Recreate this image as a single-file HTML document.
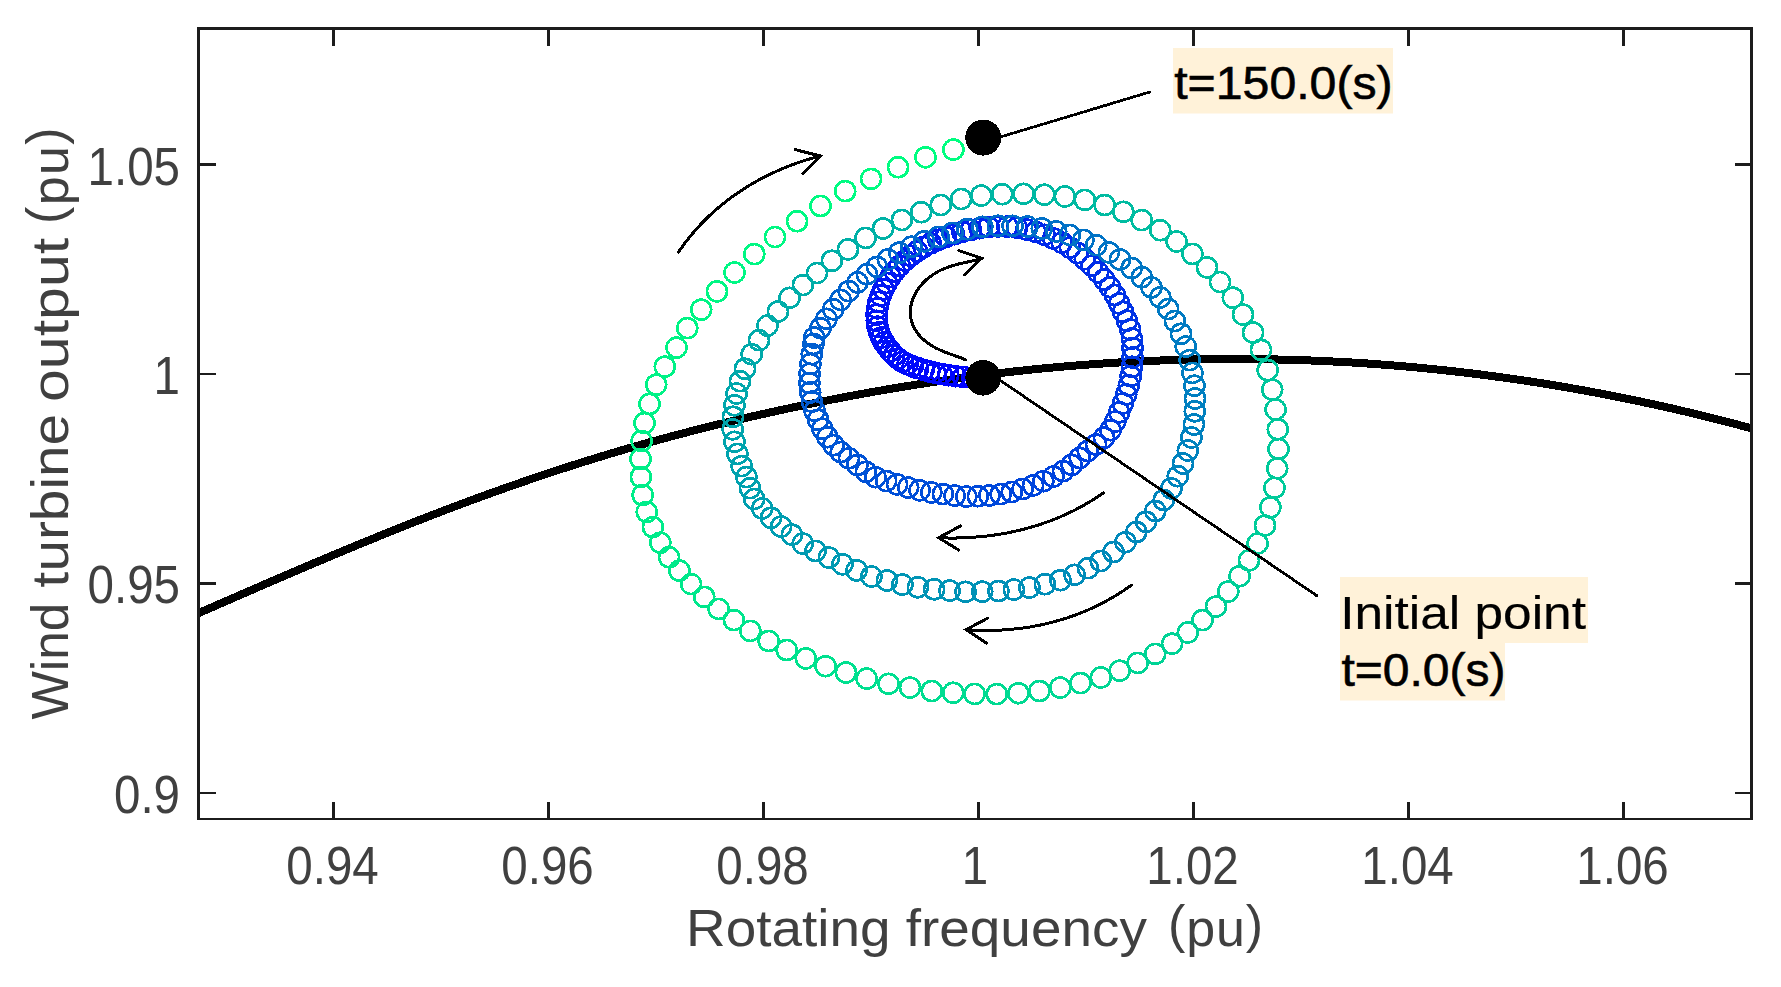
<!DOCTYPE html>
<html lang="en"><head><meta charset="utf-8"><title>Wind turbine output vs rotating frequency</title>
<style>html,body{margin:0;padding:0;background:#fff}svg{display:block}text{font-family:"Liberation Sans",sans-serif}</style></head>
<body>
<svg width="1781" height="987" viewBox="0 0 1781 987">
<rect width="1781" height="987" fill="#fff"/>
<defs><clipPath id="ax"><rect x="197" y="27" width="1556" height="793"/></clipPath></defs>
<g clip-path="url(#ax)">
<path d="M190.0 616.87 L195.0 614.69 L200.0 612.50 L205.0 610.32 L210.0 608.13 L215.0 605.95 L220.0 603.77 L225.0 601.59 L230.0 599.41 L235.0 597.23 L240.0 595.05 L245.0 592.88 L250.0 590.71 L255.0 588.54 L260.0 586.37 L265.0 584.21 L270.0 582.05 L275.0 579.89 L280.0 577.74 L285.0 575.59 L290.0 573.45 L295.0 571.30 L300.0 569.17 L305.0 567.04 L310.0 564.91 L315.0 562.79 L320.0 560.67 L325.0 558.56 L330.0 556.46 L335.0 554.36 L340.0 552.27 L345.0 550.18 L350.0 548.10 L355.0 546.03 L360.0 543.97 L365.0 541.91 L370.0 539.86 L375.0 537.82 L380.0 535.78 L385.0 533.76 L390.0 531.74 L395.0 529.73 L400.0 527.73 L405.0 525.74 L410.0 523.76 L415.0 521.79 L420.0 519.82 L425.0 517.87 L430.0 515.93 L435.0 514.00 L440.0 512.08 L445.0 510.17 L450.0 508.27 L455.0 506.38 L460.0 504.50 L465.0 502.64 L470.0 500.78 L475.0 498.94 L480.0 497.11 L485.0 495.29 L490.0 493.48 L495.0 491.68 L500.0 489.90 L505.0 488.13 L510.0 486.36 L515.0 484.62 L520.0 482.88 L525.0 481.15 L530.0 479.44 L535.0 477.74 L540.0 476.05 L545.0 474.38 L550.0 472.71 L555.0 471.06 L560.0 469.42 L565.0 467.80 L570.0 466.19 L575.0 464.59 L580.0 463.00 L585.0 461.43 L590.0 459.87 L595.0 458.32 L600.0 456.79 L605.0 455.27 L610.0 453.76 L615.0 452.27 L620.0 450.79 L625.0 449.33 L630.0 447.87 L635.0 446.44 L640.0 445.01 L645.0 443.60 L650.0 442.20 L655.0 440.82 L660.0 439.45 L665.0 438.09 L670.0 436.75 L675.0 435.42 L680.0 434.10 L685.0 432.79 L690.0 431.50 L695.0 430.22 L700.0 428.95 L705.0 427.69 L710.0 426.45 L715.0 425.22 L720.0 424.00 L725.0 422.79 L730.0 421.59 L735.0 420.40 L740.0 419.23 L745.0 418.07 L750.0 416.91 L755.0 415.77 L760.0 414.64 L765.0 413.52 L770.0 412.41 L775.0 411.31 L780.0 410.22 L785.0 409.14 L790.0 408.08 L795.0 407.02 L800.0 405.97 L805.0 404.93 L810.0 403.91 L815.0 402.89 L820.0 401.89 L825.0 400.89 L830.0 399.91 L835.0 398.93 L840.0 397.97 L845.0 397.02 L850.0 396.08 L855.0 395.15 L860.0 394.23 L865.0 393.32 L870.0 392.42 L875.0 391.53 L880.0 390.66 L885.0 389.79 L890.0 388.94 L895.0 388.10 L900.0 387.27 L905.0 386.45 L910.0 385.64 L915.0 384.84 L920.0 384.05 L925.0 383.28 L930.0 382.52 L935.0 381.76 L940.0 381.03 L945.0 380.30 L950.0 379.58 L955.0 378.88 L960.0 378.18 L965.0 377.50 L970.0 376.83 L975.0 376.17 L980.0 375.53 L985.0 374.89 L990.0 374.27 L995.0 373.66 L1000.0 373.07 L1005.0 372.48 L1010.0 371.91 L1015.0 371.35 L1020.0 370.80 L1025.0 370.26 L1030.0 369.74 L1035.0 369.22 L1040.0 368.72 L1045.0 368.24 L1050.0 367.76 L1055.0 367.30 L1060.0 366.85 L1065.0 366.41 L1070.0 365.99 L1075.0 365.58 L1080.0 365.18 L1085.0 364.79 L1090.0 364.42 L1095.0 364.06 L1100.0 363.71 L1105.0 363.37 L1110.0 363.05 L1115.0 362.73 L1120.0 362.43 L1125.0 362.15 L1130.0 361.87 L1135.0 361.61 L1140.0 361.37 L1145.0 361.13 L1150.0 360.91 L1155.0 360.70 L1160.0 360.50 L1165.0 360.31 L1170.0 360.14 L1175.0 359.98 L1180.0 359.83 L1185.0 359.70 L1190.0 359.57 L1195.0 359.47 L1200.0 359.37 L1205.0 359.29 L1210.0 359.21 L1215.0 359.16 L1220.0 359.11 L1225.0 359.08 L1230.0 359.06 L1235.0 359.05 L1240.0 359.05 L1245.0 359.07 L1250.0 359.10 L1255.0 359.15 L1260.0 359.20 L1265.0 359.27 L1270.0 359.35 L1275.0 359.45 L1280.0 359.56 L1285.0 359.68 L1290.0 359.81 L1295.0 359.96 L1300.0 360.11 L1305.0 360.29 L1310.0 360.47 L1315.0 360.67 L1320.0 360.88 L1325.0 361.10 L1330.0 361.34 L1335.0 361.59 L1340.0 361.85 L1345.0 362.12 L1350.0 362.41 L1355.0 362.71 L1360.0 363.03 L1365.0 363.35 L1370.0 363.69 L1375.0 364.05 L1380.0 364.41 L1385.0 364.79 L1390.0 365.18 L1395.0 365.59 L1400.0 366.00 L1405.0 366.43 L1410.0 366.88 L1415.0 367.33 L1420.0 367.80 L1425.0 368.29 L1430.0 368.78 L1435.0 369.29 L1440.0 369.81 L1445.0 370.35 L1450.0 370.89 L1455.0 371.45 L1460.0 372.03 L1465.0 372.62 L1470.0 373.22 L1475.0 373.83 L1480.0 374.46 L1485.0 375.09 L1490.0 375.75 L1495.0 376.41 L1500.0 377.09 L1505.0 377.78 L1510.0 378.49 L1515.0 379.21 L1520.0 379.94 L1525.0 380.68 L1530.0 381.44 L1535.0 382.21 L1540.0 383.00 L1545.0 383.79 L1550.0 384.60 L1555.0 385.43 L1560.0 386.27 L1565.0 387.12 L1570.0 387.98 L1575.0 388.86 L1580.0 389.75 L1585.0 390.65 L1590.0 391.57 L1595.0 392.50 L1600.0 393.44 L1605.0 394.40 L1610.0 395.37 L1615.0 396.35 L1620.0 397.35 L1625.0 398.36 L1630.0 399.38 L1635.0 400.41 L1640.0 401.46 L1645.0 402.53 L1650.0 403.60 L1655.0 404.69 L1660.0 405.80 L1665.0 406.91 L1670.0 408.04 L1675.0 409.19 L1680.0 410.34 L1685.0 411.51 L1690.0 412.70 L1695.0 413.90 L1700.0 415.11 L1705.0 416.33 L1710.0 417.57 L1715.0 418.82 L1720.0 420.08 L1725.0 421.36 L1730.0 422.65 L1735.0 423.96 L1740.0 425.27 L1745.0 426.61 L1750.0 427.95 L1755.0 429.31 L1760.0 430.68" fill="none" stroke="#000" stroke-width="8" shape-rendering="crispEdges"/>
<g fill="none" stroke-width="2.7" shape-rendering="crispEdges">
<circle cx="982.8" cy="377.8" r="10" stroke="#0000ff"/>
<circle cx="972.3" cy="377.5" r="10" stroke="#0001ff"/>
<circle cx="963.2" cy="376.9" r="10" stroke="#0002fe"/>
<circle cx="955.3" cy="376.2" r="10" stroke="#0003fe"/>
<circle cx="948.2" cy="375.2" r="10" stroke="#0003fd"/>
<circle cx="941.6" cy="374.1" r="10" stroke="#0004fd"/>
<circle cx="935.3" cy="372.8" r="10" stroke="#0005fc"/>
<circle cx="929.3" cy="371.4" r="10" stroke="#0006fc"/>
<circle cx="923.6" cy="369.9" r="10" stroke="#0007fc"/>
<circle cx="918.1" cy="368.2" r="10" stroke="#0008fb"/>
<circle cx="912.7" cy="366.4" r="10" stroke="#0008fb"/>
<circle cx="907.6" cy="364.3" r="10" stroke="#0009fa"/>
<circle cx="902.7" cy="361.8" r="10" stroke="#000afa"/>
<circle cx="898.3" cy="358.7" r="10" stroke="#000bfa"/>
<circle cx="894.2" cy="355.2" r="10" stroke="#000cf9"/>
<circle cx="890.5" cy="351.2" r="10" stroke="#000df9"/>
<circle cx="887.0" cy="347.0" r="10" stroke="#000df8"/>
<circle cx="884.0" cy="342.4" r="10" stroke="#000ef8"/>
<circle cx="881.3" cy="337.5" r="10" stroke="#000ff7"/>
<circle cx="879.2" cy="332.3" r="10" stroke="#0010f7"/>
<circle cx="877.6" cy="326.7" r="10" stroke="#0011f7"/>
<circle cx="876.8" cy="320.8" r="10" stroke="#0012f6"/>
<circle cx="876.6" cy="314.6" r="10" stroke="#0012f6"/>
<circle cx="877.3" cy="308.3" r="10" stroke="#0013f5"/>
<circle cx="878.6" cy="301.9" r="10" stroke="#0014f5"/>
<circle cx="880.7" cy="295.5" r="10" stroke="#0015f5"/>
<circle cx="883.4" cy="289.2" r="10" stroke="#0016f4"/>
<circle cx="886.7" cy="283.0" r="10" stroke="#0017f4"/>
<circle cx="890.5" cy="277.0" r="10" stroke="#0017f3"/>
<circle cx="894.8" cy="271.3" r="10" stroke="#0018f3"/>
<circle cx="899.7" cy="265.7" r="10" stroke="#0019f2"/>
<circle cx="905.0" cy="260.5" r="10" stroke="#001af2"/>
<circle cx="910.7" cy="255.7" r="10" stroke="#001bf2"/>
<circle cx="917.0" cy="251.2" r="10" stroke="#001cf1"/>
<circle cx="923.7" cy="247.0" r="10" stroke="#001df1"/>
<circle cx="930.8" cy="243.3" r="10" stroke="#001df0"/>
<circle cx="938.3" cy="239.9" r="10" stroke="#001ef0"/>
<circle cx="946.0" cy="236.8" r="10" stroke="#001fef"/>
<circle cx="954.1" cy="234.2" r="10" stroke="#0020ef"/>
<circle cx="962.3" cy="231.8" r="10" stroke="#0021ef"/>
<circle cx="970.9" cy="229.8" r="10" stroke="#0022ee"/>
<circle cx="979.7" cy="228.2" r="10" stroke="#0022ee"/>
<circle cx="988.7" cy="227.0" r="10" stroke="#0023ed"/>
<circle cx="998.0" cy="226.4" r="10" stroke="#0024ed"/>
<circle cx="1007.4" cy="226.6" r="10" stroke="#0025ed"/>
<circle cx="1016.9" cy="227.6" r="10" stroke="#0026ec"/>
<circle cx="1026.2" cy="229.4" r="10" stroke="#0027ec"/>
<circle cx="1035.4" cy="231.8" r="10" stroke="#0027eb"/>
<circle cx="1044.4" cy="234.8" r="10" stroke="#0028eb"/>
<circle cx="1053.2" cy="238.4" r="10" stroke="#0029ea"/>
<circle cx="1061.8" cy="242.6" r="10" stroke="#002aea"/>
<circle cx="1069.9" cy="247.6" r="10" stroke="#002bea"/>
<circle cx="1077.6" cy="253.1" r="10" stroke="#002ce9"/>
<circle cx="1084.8" cy="259.2" r="10" stroke="#002ce9"/>
<circle cx="1091.7" cy="265.6" r="10" stroke="#002de8"/>
<circle cx="1098.2" cy="272.3" r="10" stroke="#002ee8"/>
<circle cx="1104.3" cy="279.5" r="10" stroke="#002fe8"/>
<circle cx="1109.9" cy="287.1" r="10" stroke="#0030e7"/>
<circle cx="1114.9" cy="295.0" r="10" stroke="#0031e7"/>
<circle cx="1119.2" cy="303.4" r="10" stroke="#0031e6"/>
<circle cx="1123.1" cy="311.9" r="10" stroke="#0032e6"/>
<circle cx="1126.9" cy="320.6" r="10" stroke="#0033e5"/>
<circle cx="1130.1" cy="329.4" r="10" stroke="#0034e5"/>
<circle cx="1131.9" cy="338.6" r="10" stroke="#0035e5"/>
<circle cx="1132.5" cy="348.0" r="10" stroke="#0036e4"/>
<circle cx="1132.5" cy="357.5" r="10" stroke="#0037e4"/>
<circle cx="1131.9" cy="366.8" r="10" stroke="#0037e3"/>
<circle cx="1130.7" cy="376.2" r="10" stroke="#0038e3"/>
<circle cx="1128.8" cy="385.4" r="10" stroke="#0039e2"/>
<circle cx="1126.2" cy="394.4" r="10" stroke="#003ae2"/>
<circle cx="1122.9" cy="403.4" r="10" stroke="#003be2"/>
<circle cx="1119.2" cy="412.3" r="10" stroke="#003ce1"/>
<circle cx="1115.3" cy="421.5" r="10" stroke="#003ce1"/>
<circle cx="1110.5" cy="430.2" r="10" stroke="#003de0"/>
<circle cx="1104.0" cy="437.8" r="10" stroke="#003ee0"/>
<circle cx="1096.1" cy="444.5" r="10" stroke="#003fe0"/>
<circle cx="1087.8" cy="451.0" r="10" stroke="#0040df"/>
<circle cx="1079.8" cy="458.0" r="10" stroke="#0041df"/>
<circle cx="1071.7" cy="464.9" r="10" stroke="#0041de"/>
<circle cx="1063.0" cy="471.2" r="10" stroke="#0042de"/>
<circle cx="1053.4" cy="476.6" r="10" stroke="#0043dd"/>
<circle cx="1043.3" cy="481.2" r="10" stroke="#0044dd"/>
<circle cx="1033.1" cy="485.4" r="10" stroke="#0045dd"/>
<circle cx="1022.6" cy="489.0" r="10" stroke="#0046dc"/>
<circle cx="1011.8" cy="492.0" r="10" stroke="#0046dc"/>
<circle cx="1000.7" cy="494.1" r="10" stroke="#0047db"/>
<circle cx="989.4" cy="495.4" r="10" stroke="#0048db"/>
<circle cx="977.9" cy="496.2" r="10" stroke="#0049db"/>
<circle cx="966.3" cy="496.6" r="10" stroke="#004ada"/>
<circle cx="954.6" cy="495.6" r="10" stroke="#004bda"/>
<circle cx="942.9" cy="494.1" r="10" stroke="#004bd9"/>
<circle cx="931.3" cy="492.4" r="10" stroke="#004cd9"/>
<circle cx="919.6" cy="490.3" r="10" stroke="#004dd8"/>
<circle cx="908.2" cy="487.6" r="10" stroke="#004ed8"/>
<circle cx="897.1" cy="484.4" r="10" stroke="#004fd8"/>
<circle cx="886.2" cy="481.0" r="10" stroke="#0050d7"/>
<circle cx="875.5" cy="477.2" r="10" stroke="#0051d7"/>
<circle cx="865.9" cy="471.8" r="10" stroke="#0051d6"/>
<circle cx="857.4" cy="465.0" r="10" stroke="#0052d6"/>
<circle cx="849.0" cy="458.3" r="10" stroke="#0053d5"/>
<circle cx="840.8" cy="452.0" r="10" stroke="#0054d5"/>
<circle cx="833.5" cy="445.1" r="10" stroke="#0055d5"/>
<circle cx="827.4" cy="437.2" r="10" stroke="#0056d4"/>
<circle cx="822.3" cy="428.7" r="10" stroke="#0056d4"/>
<circle cx="818.1" cy="419.8" r="10" stroke="#0057d3"/>
<circle cx="814.6" cy="410.8" r="10" stroke="#0058d3"/>
<circle cx="811.9" cy="401.7" r="10" stroke="#0059d3"/>
<circle cx="810.2" cy="392.5" r="10" stroke="#005ad2"/>
<circle cx="809.4" cy="383.1" r="10" stroke="#005bd2"/>
<circle cx="809.6" cy="373.7" r="10" stroke="#005bd1"/>
<circle cx="810.4" cy="364.1" r="10" stroke="#005cd1"/>
<circle cx="811.8" cy="354.2" r="10" stroke="#005dd0"/>
<circle cx="813.4" cy="344.0" r="10" stroke="#005ed0"/>
<circle cx="814.3" cy="337.6" r="10" stroke="#005fd0"/>
<circle cx="820.4" cy="328.2" r="10" stroke="#0060cf"/>
<circle cx="826.5" cy="318.8" r="10" stroke="#0060cf"/>
<circle cx="833.2" cy="309.3" r="10" stroke="#0061ce"/>
<circle cx="840.6" cy="299.9" r="10" stroke="#0062ce"/>
<circle cx="848.7" cy="291.1" r="10" stroke="#0063ce"/>
<circle cx="857.5" cy="282.4" r="10" stroke="#0064cd"/>
<circle cx="866.9" cy="274.3" r="10" stroke="#0065cd"/>
<circle cx="877.0" cy="266.9" r="10" stroke="#0065cc"/>
<circle cx="887.8" cy="259.5" r="10" stroke="#0066cc"/>
<circle cx="899.2" cy="252.7" r="10" stroke="#0067cb"/>
<circle cx="911.4" cy="246.7" r="10" stroke="#0068cb"/>
<circle cx="924.2" cy="241.3" r="10" stroke="#0069cb"/>
<circle cx="938.6" cy="236.9" r="10" stroke="#006aca"/>
<circle cx="952.5" cy="232.9" r="10" stroke="#006bca"/>
<circle cx="967.2" cy="229.2" r="10" stroke="#006bc9"/>
<circle cx="982.3" cy="226.8" r="10" stroke="#006cc9"/>
<circle cx="998.0" cy="225.8" r="10" stroke="#006dc8"/>
<circle cx="1012.6" cy="225.8" r="10" stroke="#006ec8"/>
<circle cx="1027.4" cy="226.5" r="10" stroke="#006fc8"/>
<circle cx="1041.8" cy="228.4" r="10" stroke="#0070c7"/>
<circle cx="1056.2" cy="231.4" r="10" stroke="#0070c7"/>
<circle cx="1069.9" cy="235.0" r="10" stroke="#0071c6"/>
<circle cx="1083.4" cy="239.9" r="10" stroke="#0072c6"/>
<circle cx="1096.2" cy="245.2" r="10" stroke="#0073c6"/>
<circle cx="1108.9" cy="252.4" r="10" stroke="#0074c5"/>
<circle cx="1120.0" cy="259.5" r="10" stroke="#0075c5"/>
<circle cx="1131.7" cy="268.1" r="10" stroke="#0075c4"/>
<circle cx="1141.8" cy="277.2" r="10" stroke="#0076c4"/>
<circle cx="1151.4" cy="287.4" r="10" stroke="#0077c3"/>
<circle cx="1160.3" cy="297.4" r="10" stroke="#0078c3"/>
<circle cx="1168.2" cy="309.0" r="10" stroke="#0079c3"/>
<circle cx="1174.9" cy="321.0" r="10" stroke="#007ac2"/>
<circle cx="1181.0" cy="333.8" r="10" stroke="#007ac2"/>
<circle cx="1185.7" cy="346.6" r="10" stroke="#007bc1"/>
<circle cx="1189.7" cy="360.1" r="10" stroke="#007cc1"/>
<circle cx="1192.4" cy="372.9" r="10" stroke="#007dc1"/>
<circle cx="1194.4" cy="385.7" r="10" stroke="#007ec0"/>
<circle cx="1195.0" cy="398.5" r="10" stroke="#007fc0"/>
<circle cx="1194.8" cy="411.3" r="10" stroke="#0080bf"/>
<circle cx="1193.9" cy="424.5" r="10" stroke="#0080bf"/>
<circle cx="1191.4" cy="437.5" r="10" stroke="#0081be"/>
<circle cx="1187.8" cy="450.5" r="10" stroke="#0082be"/>
<circle cx="1183.0" cy="463.5" r="10" stroke="#0083be"/>
<circle cx="1177.8" cy="476.2" r="10" stroke="#0084bd"/>
<circle cx="1171.4" cy="488.4" r="10" stroke="#0085bd"/>
<circle cx="1163.8" cy="500.0" r="10" stroke="#0085bc"/>
<circle cx="1155.3" cy="511.0" r="10" stroke="#0086bc"/>
<circle cx="1146.0" cy="521.8" r="10" stroke="#0087bb"/>
<circle cx="1136.3" cy="532.0" r="10" stroke="#0088bb"/>
<circle cx="1125.5" cy="542.2" r="10" stroke="#0089bb"/>
<circle cx="1113.5" cy="552.0" r="10" stroke="#008aba"/>
<circle cx="1100.8" cy="561.0" r="10" stroke="#008aba"/>
<circle cx="1088.0" cy="568.2" r="10" stroke="#008bb9"/>
<circle cx="1074.6" cy="574.8" r="10" stroke="#008cb9"/>
<circle cx="1060.4" cy="580.2" r="10" stroke="#008db9"/>
<circle cx="1044.9" cy="584.2" r="10" stroke="#008eb8"/>
<circle cx="1029.4" cy="587.6" r="10" stroke="#008fb8"/>
<circle cx="1013.9" cy="589.6" r="10" stroke="#008fb7"/>
<circle cx="998.4" cy="591.0" r="10" stroke="#0090b7"/>
<circle cx="982.2" cy="591.7" r="10" stroke="#0091b6"/>
<circle cx="965.6" cy="591.8" r="10" stroke="#0092b6"/>
<circle cx="949.6" cy="590.6" r="10" stroke="#0093b6"/>
<circle cx="934.1" cy="589.3" r="10" stroke="#0094b5"/>
<circle cx="917.9" cy="587.3" r="10" stroke="#0094b5"/>
<circle cx="902.4" cy="584.6" r="10" stroke="#0095b4"/>
<circle cx="886.9" cy="580.5" r="10" stroke="#0096b4"/>
<circle cx="871.4" cy="576.5" r="10" stroke="#0097b4"/>
<circle cx="856.6" cy="570.4" r="10" stroke="#0098b3"/>
<circle cx="842.4" cy="564.3" r="10" stroke="#0099b3"/>
<circle cx="828.9" cy="557.6" r="10" stroke="#009ab2"/>
<circle cx="815.5" cy="550.9" r="10" stroke="#009ab2"/>
<circle cx="802.7" cy="543.5" r="10" stroke="#009bb1"/>
<circle cx="791.9" cy="534.7" r="10" stroke="#009cb1"/>
<circle cx="781.1" cy="526.6" r="10" stroke="#009db1"/>
<circle cx="771.0" cy="517.8" r="10" stroke="#009eb0"/>
<circle cx="762.2" cy="508.4" r="10" stroke="#009fb0"/>
<circle cx="754.2" cy="499.0" r="10" stroke="#009faf"/>
<circle cx="750.0" cy="488.2" r="10" stroke="#00a0af"/>
<circle cx="746.4" cy="477.1" r="10" stroke="#00a1ae"/>
<circle cx="741.7" cy="466.1" r="10" stroke="#00a2ae"/>
<circle cx="737.4" cy="453.9" r="10" stroke="#00a3ae"/>
<circle cx="734.4" cy="441.8" r="10" stroke="#00a4ad"/>
<circle cx="732.7" cy="429.3" r="10" stroke="#00a4ad"/>
<circle cx="733.0" cy="416.8" r="10" stroke="#00a5ac"/>
<circle cx="734.4" cy="405.3" r="10" stroke="#00a6ac"/>
<circle cx="736.6" cy="393.5" r="10" stroke="#00a7ac"/>
<circle cx="740.0" cy="381.2" r="10" stroke="#00a8ab"/>
<circle cx="745.0" cy="368.8" r="10" stroke="#00a9ab"/>
<circle cx="751.7" cy="354.2" r="10" stroke="#00a9aa"/>
<circle cx="759.0" cy="340.2" r="10" stroke="#00aaaa"/>
<circle cx="767.5" cy="325.6" r="10" stroke="#00aba9"/>
<circle cx="777.9" cy="311.6" r="10" stroke="#00aca9"/>
<circle cx="789.6" cy="297.8" r="10" stroke="#00ada9"/>
<circle cx="802.9" cy="285.1" r="10" stroke="#00aea8"/>
<circle cx="817.0" cy="273.0" r="10" stroke="#00aea8"/>
<circle cx="831.9" cy="260.8" r="10" stroke="#00afa7"/>
<circle cx="848.0" cy="249.4" r="10" stroke="#00b0a7"/>
<circle cx="865.6" cy="237.9" r="10" stroke="#00b1a7"/>
<circle cx="883.1" cy="228.5" r="10" stroke="#00b2a6"/>
<circle cx="901.9" cy="220.0" r="10" stroke="#00b3a6"/>
<circle cx="921.2" cy="212.2" r="10" stroke="#00b4a5"/>
<circle cx="940.8" cy="205.0" r="10" stroke="#00b4a5"/>
<circle cx="961.1" cy="199.0" r="10" stroke="#00b5a4"/>
<circle cx="981.3" cy="195.6" r="10" stroke="#00b6a4"/>
<circle cx="1002.2" cy="194.2" r="10" stroke="#00b7a4"/>
<circle cx="1023.6" cy="193.8" r="10" stroke="#00b8a3"/>
<circle cx="1044.3" cy="194.7" r="10" stroke="#00b9a3"/>
<circle cx="1064.8" cy="196.5" r="10" stroke="#00b9a2"/>
<circle cx="1084.8" cy="199.9" r="10" stroke="#00baa2"/>
<circle cx="1104.6" cy="205.0" r="10" stroke="#00bba1"/>
<circle cx="1123.3" cy="211.8" r="10" stroke="#00bca1"/>
<circle cx="1141.7" cy="220.1" r="10" stroke="#00bda1"/>
<circle cx="1160.2" cy="230.2" r="10" stroke="#00bea0"/>
<circle cx="1176.6" cy="241.5" r="10" stroke="#00bea0"/>
<circle cx="1192.4" cy="253.9" r="10" stroke="#00bf9f"/>
<circle cx="1207.0" cy="267.4" r="10" stroke="#00c09f"/>
<circle cx="1220.0" cy="282.0" r="10" stroke="#00c19f"/>
<circle cx="1232.8" cy="297.7" r="10" stroke="#00c29e"/>
<circle cx="1243.0" cy="314.6" r="10" stroke="#00c39e"/>
<circle cx="1253.1" cy="332.6" r="10" stroke="#00c39d"/>
<circle cx="1261.0" cy="349.9" r="10" stroke="#00c49d"/>
<circle cx="1267.7" cy="370.1" r="10" stroke="#00c59c"/>
<circle cx="1272.2" cy="389.7" r="10" stroke="#00c69c"/>
<circle cx="1275.6" cy="409.5" r="10" stroke="#00c79c"/>
<circle cx="1277.8" cy="429.3" r="10" stroke="#00c89b"/>
<circle cx="1278.5" cy="448.9" r="10" stroke="#00c89b"/>
<circle cx="1277.2" cy="468.4" r="10" stroke="#00c99a"/>
<circle cx="1274.5" cy="487.8" r="10" stroke="#00ca9a"/>
<circle cx="1270.4" cy="507.4" r="10" stroke="#00cb9a"/>
<circle cx="1265.0" cy="525.5" r="10" stroke="#00cc99"/>
<circle cx="1257.6" cy="543.5" r="10" stroke="#00cd99"/>
<circle cx="1249.0" cy="560.4" r="10" stroke="#00ce98"/>
<circle cx="1239.6" cy="576.2" r="10" stroke="#00ce98"/>
<circle cx="1228.3" cy="591.5" r="10" stroke="#00cf97"/>
<circle cx="1216.0" cy="606.6" r="10" stroke="#00d097"/>
<circle cx="1202.5" cy="620.1" r="10" stroke="#00d197"/>
<circle cx="1187.8" cy="632.5" r="10" stroke="#00d296"/>
<circle cx="1172.1" cy="643.7" r="10" stroke="#00d396"/>
<circle cx="1155.2" cy="653.9" r="10" stroke="#00d395"/>
<circle cx="1137.7" cy="662.9" r="10" stroke="#00d495"/>
<circle cx="1119.7" cy="670.7" r="10" stroke="#00d594"/>
<circle cx="1100.8" cy="677.5" r="10" stroke="#00d694"/>
<circle cx="1080.5" cy="683.1" r="10" stroke="#00d794"/>
<circle cx="1060.3" cy="687.6" r="10" stroke="#00d893"/>
<circle cx="1039.4" cy="691.0" r="10" stroke="#00d893"/>
<circle cx="1018.4" cy="693.2" r="10" stroke="#00d992"/>
<circle cx="996.8" cy="694.1" r="10" stroke="#00da92"/>
<circle cx="974.6" cy="693.9" r="10" stroke="#00db92"/>
<circle cx="953.2" cy="692.8" r="10" stroke="#00dc91"/>
<circle cx="931.8" cy="691.0" r="10" stroke="#00dd91"/>
<circle cx="910.0" cy="687.6" r="10" stroke="#00dd90"/>
<circle cx="888.6" cy="683.8" r="10" stroke="#00de90"/>
<circle cx="866.6" cy="678.6" r="10" stroke="#00df8f"/>
<circle cx="845.9" cy="672.5" r="10" stroke="#00e08f"/>
<circle cx="825.6" cy="666.2" r="10" stroke="#00e18f"/>
<circle cx="805.8" cy="658.4" r="10" stroke="#00e28e"/>
<circle cx="786.7" cy="650.0" r="10" stroke="#00e28e"/>
<circle cx="768.7" cy="641.0" r="10" stroke="#00e38d"/>
<circle cx="750.3" cy="630.9" r="10" stroke="#00e48d"/>
<circle cx="733.9" cy="620.1" r="10" stroke="#00e58d"/>
<circle cx="718.6" cy="608.9" r="10" stroke="#00e68c"/>
<circle cx="704.2" cy="596.9" r="10" stroke="#00e78c"/>
<circle cx="691.1" cy="584.1" r="10" stroke="#00e88b"/>
<circle cx="679.4" cy="570.6" r="10" stroke="#00e88b"/>
<circle cx="669.1" cy="557.2" r="10" stroke="#00e98a"/>
<circle cx="660.3" cy="542.7" r="10" stroke="#00ea8a"/>
<circle cx="652.9" cy="527.1" r="10" stroke="#00eb8a"/>
<circle cx="646.8" cy="511.9" r="10" stroke="#00ec89"/>
<circle cx="642.7" cy="495.0" r="10" stroke="#00ed89"/>
<circle cx="640.9" cy="477.0" r="10" stroke="#00ed88"/>
<circle cx="640.5" cy="459.0" r="10" stroke="#00ee88"/>
<circle cx="641.6" cy="441.0" r="10" stroke="#00ef87"/>
<circle cx="644.5" cy="423.0" r="10" stroke="#00f087"/>
<circle cx="649.5" cy="403.9" r="10" stroke="#00f187"/>
<circle cx="656.2" cy="384.7" r="10" stroke="#00f286"/>
<circle cx="664.8" cy="366.7" r="10" stroke="#00f286"/>
<circle cx="676.5" cy="347.6" r="10" stroke="#00f385"/>
<circle cx="687.3" cy="328.1" r="10" stroke="#00f485"/>
<circle cx="701.2" cy="309.7" r="10" stroke="#00f585"/>
<circle cx="717.0" cy="291.4" r="10" stroke="#00f684"/>
<circle cx="734.5" cy="272.5" r="10" stroke="#00f784"/>
<circle cx="754.3" cy="254.1" r="10" stroke="#00f783"/>
<circle cx="775.0" cy="237.0" r="10" stroke="#00f883"/>
<circle cx="797.1" cy="221.2" r="10" stroke="#00f982"/>
<circle cx="820.5" cy="205.9" r="10" stroke="#00fa82"/>
<circle cx="845.2" cy="191.1" r="10" stroke="#00fb82"/>
<circle cx="871.1" cy="178.9" r="10" stroke="#00fc81"/>
<circle cx="898.1" cy="167.2" r="10" stroke="#00fc81"/>
<circle cx="925.5" cy="157.3" r="10" stroke="#00fd80"/>
<circle cx="953.4" cy="149.6" r="10" stroke="#00fe80"/>
<circle cx="983.3" cy="137.6" r="10" stroke="#00ff80"/>
</g>
</g>
<g stroke="#000" stroke-width="2.8" stroke-linecap="round" shape-rendering="crispEdges">
<line x1="990" y1="140.1" x2="1149.9" y2="92"/>
<line x1="984" y1="369.3" x2="1317.1" y2="595.9"/>
</g>
<circle cx="983.3" cy="137.6" r="18" fill="#000" shape-rendering="crispEdges"/>
<circle cx="983.2" cy="377.8" r="17.8" fill="#000" shape-rendering="crispEdges"/>
<g shape-rendering="crispEdges">
<path d="M965.4 359.8 L962.4 358.4 L958.8 357.1 L954.7 355.7 L950.3 354.1 L945.7 352.4 L941.1 350.5 L936.6 348.4 L932.2 346.0 L928.1 343.3 L924.3 340.3 L920.9 337.1 L917.9 333.7 L915.4 330.0 L913.3 326.2 L911.8 322.2 L910.8 318.1 L910.4 313.9 L910.5 309.6 L911.0 305.4 L912.1 301.2 L913.6 297.1 L915.6 293.1 L918.0 289.2 L920.7 285.6 L923.8 282.2 L927.1 279.0 L930.8 276.2 L934.6 273.6 L938.7 271.2 L942.8 269.2 L947.1 267.5 L951.4 266.0 L955.8 264.7 L960.2 263.6 L964.5 262.6 L968.9 261.7 L973.2 260.8 L977.4 259.7 L981.6 258.3" fill="none" stroke="#000" stroke-width="3.0" stroke-linecap="round" stroke-linejoin="round"/>
<path d="M958.8 250.6 L981.6 258.3 L964.5 274.9" fill="none" stroke="#000" stroke-width="3.0" stroke-linecap="round" stroke-linejoin="miter"/>
<path d="M678.4 252.3 L681.0 248.5 L683.6 244.8 L686.4 241.2 L689.2 237.7 L692.0 234.2 L695.0 230.7 L697.9 227.4 L701.0 224.1 L704.1 220.9 L707.3 217.7 L710.6 214.6 L713.9 211.6 L717.2 208.7 L720.7 205.8 L724.1 203.0 L727.7 200.2 L731.2 197.5 L734.9 194.9 L738.6 192.4 L742.3 189.9 L746.1 187.5 L749.9 185.1 L753.7 182.9 L757.6 180.7 L761.6 178.5 L765.6 176.5 L769.6 174.5 L773.6 172.6 L777.7 170.7 L781.9 168.9 L786.0 167.2 L790.2 165.6 L794.4 164.0 L798.7 162.5 L803.0 161.0 L807.3 159.7 L811.6 158.4 L815.9 157.2 L820.3 156.0" fill="none" stroke="#000" stroke-width="3.0" stroke-linecap="round" stroke-linejoin="round"/>
<path d="M795.5 149.7 L820.3 156.0 L803.1 173.5" fill="none" stroke="#000" stroke-width="3.0" stroke-linecap="round" stroke-linejoin="miter"/>
<path d="M1103.5 492.7 L1099.8 495.3 L1096.1 497.8 L1092.3 500.2 L1088.4 502.5 L1084.6 504.8 L1080.7 507.0 L1076.7 509.1 L1072.8 511.1 L1068.7 513.0 L1064.7 514.9 L1060.6 516.7 L1056.5 518.4 L1052.4 520.1 L1048.2 521.6 L1044.0 523.1 L1039.8 524.5 L1035.6 525.9 L1031.3 527.1 L1027.0 528.3 L1022.7 529.5 L1018.4 530.5 L1014.1 531.5 L1009.7 532.4 L1005.3 533.3 L1000.9 534.0 L996.5 534.7 L992.1 535.4 L987.7 535.9 L983.2 536.4 L978.8 536.8 L974.3 537.2 L969.9 537.5 L965.4 537.7 L960.9 537.9 L956.5 538.0 L952.0 538.0 L947.5 538.0 L943.1 537.9 L938.6 537.7" fill="none" stroke="#000" stroke-width="3.0" stroke-linecap="round" stroke-linejoin="round"/>
<path d="M960.4 526.0 L938.6 537.7 L958.8 550.1" fill="none" stroke="#000" stroke-width="3.0" stroke-linecap="round" stroke-linejoin="miter"/>
<path d="M1131.2 585.2 L1127.6 587.8 L1123.9 590.4 L1120.1 592.8 L1116.3 595.2 L1112.5 597.5 L1108.6 599.7 L1104.7 601.9 L1100.7 603.9 L1096.7 605.9 L1092.7 607.8 L1088.6 609.7 L1084.5 611.4 L1080.4 613.1 L1076.2 614.7 L1072.0 616.2 L1067.8 617.7 L1063.5 619.0 L1059.2 620.3 L1054.9 621.5 L1050.6 622.6 L1046.2 623.7 L1041.9 624.7 L1037.5 625.6 L1033.1 626.4 L1028.6 627.2 L1024.2 627.8 L1019.8 628.4 L1015.3 628.9 L1010.9 629.4 L1006.4 629.7 L1001.9 630.0 L997.5 630.2 L993.0 630.4 L988.5 630.4 L984.0 630.4 L979.6 630.3 L975.1 630.2 L970.7 629.9 L966.2 629.6" fill="none" stroke="#000" stroke-width="3.0" stroke-linecap="round" stroke-linejoin="round"/>
<path d="M987.4 618.3 L966.2 629.6 L986.5 643.3" fill="none" stroke="#000" stroke-width="3.0" stroke-linecap="round" stroke-linejoin="miter"/>
</g>
<rect x="1173" y="48" width="220" height="65.5" fill="#fff2d9"/>
<rect x="1340" y="577" width="248" height="66" fill="#fff2d9"/>
<rect x="1340" y="643" width="165" height="57.5" fill="#fff2d9"/>
<g font-size="46.5" fill="#000" stroke="#000">
<text stroke-width="0.6" x="1174.2" y="99.2" textLength="218.5" lengthAdjust="spacingAndGlyphs">t=150.0(s)</text>
<text stroke-width="0.2" x="1340.2" y="628.6" textLength="245.8" lengthAdjust="spacingAndGlyphs">Initial point</text>
<text stroke-width="0.6" x="1341.4" y="685.8" textLength="164" lengthAdjust="spacingAndGlyphs">t=0.0(s)</text>
</g>
<g fill="#1c1c1c" shape-rendering="crispEdges">
<rect x="197" y="27" width="3" height="793"/>
<rect x="1750" y="27" width="3" height="793"/>
<rect x="197" y="27" width="1556" height="3"/>
<rect x="197" y="818" width="1556" height="2"/>
<rect x="332" y="802" width="3" height="16"/>
<rect x="332" y="30" width="3" height="16"/>
<rect x="547" y="802" width="3" height="16"/>
<rect x="547" y="30" width="3" height="16"/>
<rect x="762" y="802" width="3" height="16"/>
<rect x="762" y="30" width="3" height="16"/>
<rect x="977" y="802" width="3" height="16"/>
<rect x="977" y="30" width="3" height="16"/>
<rect x="1192" y="802" width="3" height="16"/>
<rect x="1192" y="30" width="3" height="16"/>
<rect x="1407" y="802" width="3" height="16"/>
<rect x="1407" y="30" width="3" height="16"/>
<rect x="1622" y="802" width="3" height="16"/>
<rect x="1622" y="30" width="3" height="16"/>
<rect x="200" y="163" width="16" height="3"/>
<rect x="1735" y="163" width="16" height="3"/>
<rect x="200" y="373" width="16" height="2"/>
<rect x="1735" y="373" width="16" height="2"/>
<rect x="200" y="582" width="16" height="3"/>
<rect x="1735" y="582" width="16" height="3"/>
<rect x="200" y="792" width="16" height="2"/>
<rect x="1735" y="792" width="16" height="2"/>
</g>
<g font-size="53.5" fill="#404040">
<text transform="translate(332.5,884) scale(0.888,1)" text-anchor="middle">0.94</text>
<text transform="translate(547.5,884) scale(0.888,1)" text-anchor="middle">0.96</text>
<text transform="translate(762.5,884) scale(0.888,1)" text-anchor="middle">0.98</text>
<text transform="translate(975.0,884) scale(0.888,1)" text-anchor="middle">1</text>
<text transform="translate(1192.5,884) scale(0.888,1)" text-anchor="middle">1.02</text>
<text transform="translate(1407.5,884) scale(0.888,1)" text-anchor="middle">1.04</text>
<text transform="translate(1622.5,884) scale(0.888,1)" text-anchor="middle">1.06</text>
<text transform="translate(180,184.5) scale(0.888,1)" text-anchor="end">1.05</text>
<text transform="translate(180,393.5) scale(0.888,1)" text-anchor="end">1</text>
<text transform="translate(180,603.0) scale(0.888,1)" text-anchor="end">0.95</text>
<text transform="translate(180,813.0) scale(0.888,1)" text-anchor="end">0.9</text>
</g>
<g font-size="52" fill="#404040">
<text y="945.8"><tspan x="686" textLength="460.9" lengthAdjust="spacingAndGlyphs">Rotating frequency</tspan> <tspan x="1168" dy="-4" letter-spacing="0.9">(</tspan><tspan dy="4" letter-spacing="0.9">pu</tspan><tspan dy="-4">)</tspan></text>
<g transform="translate(68.3,0) rotate(-90)">
<text y="0"><tspan x="-719.5" textLength="116.7" lengthAdjust="spacingAndGlyphs">Wind</tspan> <tspan x="-587.4" textLength="173.5" lengthAdjust="spacingAndGlyphs">turbine</tspan> <tspan x="-402" textLength="164.2" lengthAdjust="spacingAndGlyphs">output</tspan> <tspan x="-224" dy="-5.5" letter-spacing="1.4">(</tspan><tspan dy="5.5" letter-spacing="1.4">pu</tspan><tspan dy="-5.5">)</tspan></text>
</g>
</g>
</svg>
</body></html>
